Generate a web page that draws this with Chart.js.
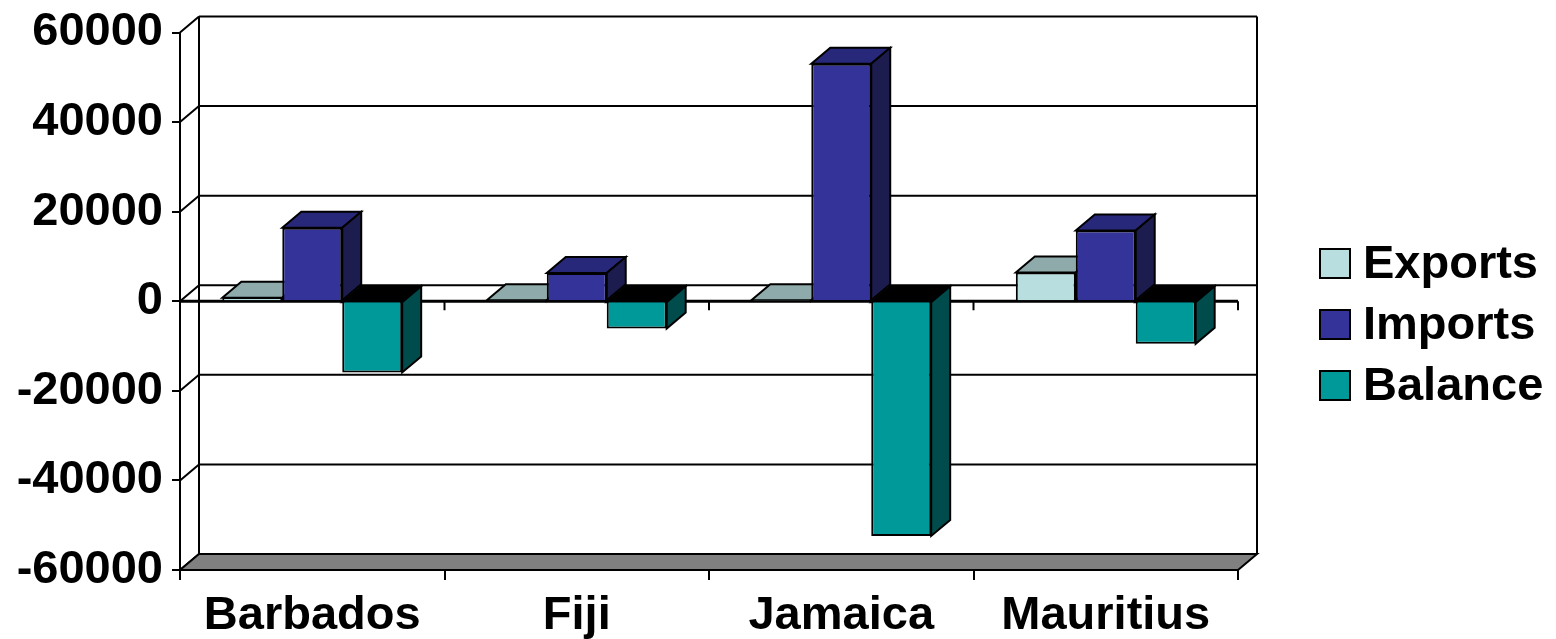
<!DOCTYPE html>
<html lang="en">
<head>
  <meta charset="UTF-8" />
  <script src="https://cdn.jsdelivr.net/npm/chart.js"></script>
  <title>Exports, Imports and Balance</title>
  <style>
    body { margin: 0; background: #fff; }
    canvas { display: block; }
  </style>
</head>
<body>
  <canvas id="chart" width="1556" height="639"></canvas>

  <script>
    const countries = ['Barbados', 'Fiji', 'Jamaica', 'Mauritius'];
    const exportsVals = [800, 150, 100, 6400];
    const importsVals = [16400, 6300, 53000, 15800];
    const balanceVals = [-15900, -6100, -52400, -9500];
    const yMin = -60000;
    const yMax = 60000;
    const yStep = 20000;

    const FONT = "'Liberation Sans', Arial, sans-serif";
    const DX = 19, DY = -16;   // depth of the 3d box

    // extra colours for the top and side faces of each series
    const faces = [
      { top: '#8FAAAA', side: '#5E7A7A' },
      { top: '#28287A', side: '#1C1C4E' },
      { top: '#000000', side: '#004C4C' }
    ];

    function poly(ctx, pts, fill) {
      ctx.beginPath();
      ctx.moveTo(pts[0][0], pts[0][1]);
      for (let i = 1; i < pts.length; i++) ctx.lineTo(pts[i][0], pts[i][1]);
      ctx.closePath();
      if (fill) { ctx.fillStyle = fill; ctx.fill(); }
      ctx.stroke();
    }

    const box3d = {
      id: 'box3d',
      beforeDatasetsDraw(chart) {
        const { ctx, chartArea: a, scales: { x, y } } = chart;
        ctx.save();
        ctx.lineWidth = 2;
        ctx.strokeStyle = '#000';
        ctx.lineJoin = 'miter';

        // back wall gridlines + connectors to the front axis
        y.ticks.forEach(t => {
          const py = y.getPixelForValue(t.value);
          ctx.beginPath();
          ctx.moveTo(a.left + DX, py + DY);
          ctx.lineTo(a.right + DX, py + DY);
          ctx.moveTo(a.left, py);
          ctx.lineTo(a.left + DX, py + DY);
          ctx.stroke();
        });
        // left and right wall edges
        ctx.beginPath();
        ctx.moveTo(a.left + DX, a.top + DY);
        ctx.lineTo(a.left + DX, a.bottom + DY);
        ctx.moveTo(a.right + DX, a.top + DY);
        ctx.lineTo(a.right + DX, a.bottom + DY);
        ctx.stroke();

        // floor
        poly(ctx, [[a.left, a.bottom], [a.right, a.bottom], [a.right + DX, a.bottom + DY], [a.left + DX, a.bottom + DY]], '#808080');

        // zero line with category ticks
        const y0 = y.getPixelForValue(0);
        const cw = (a.right - a.left) / countries.length;
        ctx.lineWidth = 3;
        ctx.beginPath();
        ctx.moveTo(a.left, y0);
        ctx.lineTo(a.right, y0);
        ctx.stroke();
        ctx.lineWidth = 2;
        ctx.beginPath();
        for (let i = 1; i <= countries.length; i++) {
          ctx.moveTo(a.left + cw * i, y0);
          ctx.lineTo(a.left + cw * i, y0 + 9);
        }
        ctx.stroke();

        // top and side faces of the bars
        chart.data.datasets.forEach((ds, i) => {
          const meta = chart.getDatasetMeta(i);
          meta.data.forEach(bar => {
            const l = bar.x - bar.width / 2, r = bar.x + bar.width / 2;
            const t = Math.min(bar.y, bar.base), b = Math.max(bar.y, bar.base);
            poly(ctx, [[l, t], [r, t], [r + DX, t + DY], [l + DX, t + DY]], faces[i].top);
            poly(ctx, [[r, t], [r + DX, t + DY], [r + DX, b + DY], [r, b]], faces[i].side);
          });
        });
        ctx.restore();
      },
      afterDraw(chart) {
        // legend on the right
        const { ctx } = chart;
        ctx.save();
        ctx.font = 'bold 47px ' + FONT;
        ctx.textBaseline = 'alphabetic';
        ctx.textAlign = 'left';
        ctx.lineWidth = 2;
        ctx.strokeStyle = '#000';
        chart.data.datasets.forEach((ds, i) => {
          const base = 278 + i * 61;
          ctx.fillStyle = ds.backgroundColor;
          ctx.fillRect(1320, base - 29, 30, 29);
          ctx.strokeRect(1320, base - 29, 30, 29);
          ctx.fillStyle = '#000';
          ctx.fillText(ds.label, 1363, base);
        });
        ctx.restore();
      }
    };

    new Chart(document.getElementById('chart'), {
      type: 'bar',
      data: {
        labels: countries,
        datasets: [
          { label: 'Exports', data: exportsVals, backgroundColor: '#B8DEE0' },
          { label: 'Imports', data: importsVals, backgroundColor: '#333399' },
          { label: 'Balance', data: balanceVals, backgroundColor: '#009999' }
        ]
      },
      options: {
        responsive: false,
        animation: false,
        layout: { padding: { left: 0, right: 318, top: 31, bottom: 0 } },
        datasets: {
          bar: {
            borderColor: '#000',
            borderWidth: 2,
            categoryPercentage: 0.68,
            barPercentage: 1.0
          }
        },
        plugins: {
          legend: { display: false },
          tooltip: { enabled: false }
        },
        scales: {
          x: {
            grid: { drawOnChartArea: false, offset: true, color: '#000', lineWidth: 2, tickLength: 10 },
            border: { color: '#000', width: 2 },
            ticks: { color: '#000', padding: 8, maxRotation: 0, font: { family: FONT, size: 47, weight: 'bold' } },
            afterFit(s) { s.height = 69; }
          },
          y: {
            min: yMin,
            max: yMax,
            grid: { drawOnChartArea: false, color: '#000', lineWidth: 2, tickLength: 8 },
            border: { color: '#000', width: 2 },
            ticks: {
              stepSize: yStep,
              color: '#000',
              padding: 9,
              font: { family: FONT, size: 47, weight: 'bold', lineHeight: 1 },
              callback: v => String(v)
            },
            afterFit(s) { s.width = 180; }
          }
        }
      },
      plugins: [box3d]
    });
  </script>
</body>
</html>
